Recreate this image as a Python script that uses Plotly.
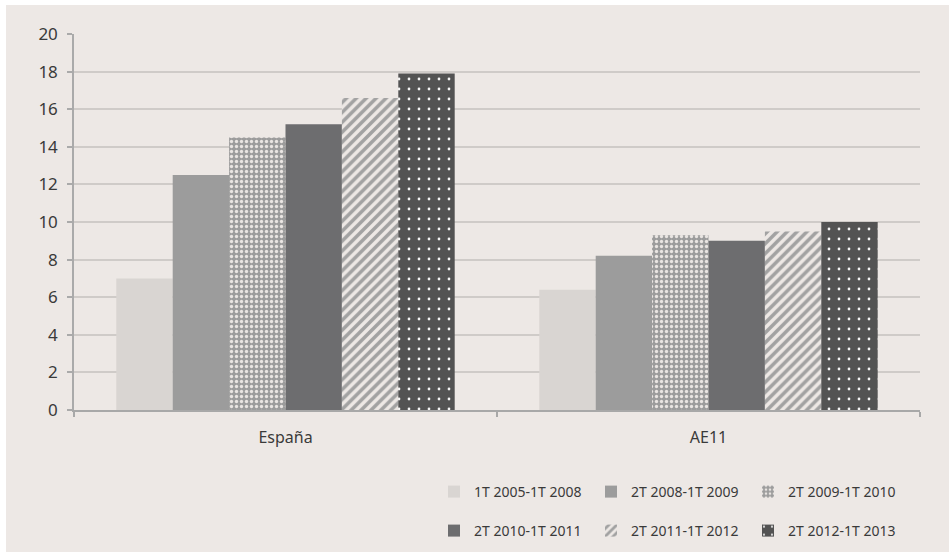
import plotly.graph_objects as go

# Categories and periods
categories = ["España", "AE11"]
periods = [
    "1T 2005-1T 2008",
    "2T 2008-1T 2009",
    "2T 2009-1T 2010",
    "2T 2010-1T 2011",
    "2T 2011-1T 2012",
    "2T 2012-1T 2013",
]

# Values per period (España, AE11)
v_2005_2008 = [7.0, 6.4]
v_2008_2009 = [12.5, 8.2]
v_2009_2010 = [14.5, 9.3]
v_2010_2011 = [15.2, 9.0]
v_2011_2012 = [16.6, 9.5]
v_2012_2013 = [17.9, 10.0]
series_values = [v_2005_2008, v_2008_2009, v_2009_2010, v_2010_2011, v_2011_2012, v_2012_2013]

y_ticks = [0, 2, 4, 6, 8, 10, 12, 14, 16, 18, 20]

BG = "#EDE8E5"
TXT = "#3A3A3A"
FONT = "Noto Sans, Open Sans, sans-serif"

styles = [
    dict(color="#D9D5D2", pattern=dict(shape="")),
    dict(color="#9C9C9C", pattern=dict(shape="")),
    dict(color="#9C9C9C", pattern=dict(shape=".", fgcolor="#E9E5E2", bgcolor="#9C9C9C",
                                       size=5, solidity=0.35, fillmode="replace")),
    dict(color="#6D6D6F", pattern=dict(shape="")),
    dict(color="#A2A2A2", pattern=dict(shape="/", fgcolor="#A2A2A2", bgcolor=BG,
                                       size=7, solidity=0.5, fillmode="replace")),
    dict(color="#535353", pattern=dict(shape=".", fgcolor="#F2F2F2", bgcolor="#535353",
                                       size=10, solidity=0.06, fillmode="replace")),
]

fig = go.Figure()
for i, (name, vals, st) in enumerate(zip(periods, series_values, styles)):
    fig.add_trace(go.Bar(
        x=categories, y=vals, name=name,
        marker=dict(color=st["color"], pattern=st["pattern"], line=dict(width=0)),
        legend="legend" if i < 3 else "legend2",
    ))

W, H = 949, 552
L, R, T, B = 74, 29, 34, 142
pw, ph = W - L - R, H - T - B

def px(x):
    return (x - L) / pw

def py(y):
    return (H - B - y) / ph

# Panel background with a thin white edge on the left and top
fig.add_shape(type="rect", xref="paper", yref="paper",
              x0=px(6), x1=px(W + 2), y0=py(H + 2), y1=py(5),
              fillcolor=BG, line=dict(width=0), layer="below")

legend_common = dict(
    orientation="h", xanchor="left", yanchor="middle",
    font=dict(family=FONT, size=14, color=TXT),
    bgcolor="rgba(0,0,0,0)", entrywidth=112, entrywidthmode="pixels",
    itemclick=False, itemdoubleclick=False, traceorder="normal",
)

fig.update_layout(
    width=W, height=H, autosize=False,
    margin=dict(l=L, r=R, t=T, b=B, pad=0, autoexpand=False),
    paper_bgcolor="white", plot_bgcolor="rgba(0,0,0,0)",
    barmode="group", bargap=0.2, bargroupgap=0,
    font=dict(family=FONT, size=16, color=TXT),
    legend=dict(x=px(434), y=py(492), **legend_common),
    legend2=dict(x=px(434), y=py(531), **legend_common),
    xaxis=dict(
        type="category", showline=True, linecolor="#A8A8A8", linewidth=2,
        ticks="outside", tickson="boundaries", ticklen=5, tickcolor="#A8A8A8",
        tickwidth=1.5, showgrid=False, tickfont=dict(family=FONT, size=16, color=TXT),
        ticklabelstandoff=12,
    ),
    yaxis=dict(
        range=[0, 20], tickvals=y_ticks, showline=True, linecolor="#AAAAAA",
        linewidth=1.5, ticks="outside", ticklen=5, tickcolor="#AAAAAA", tickwidth=1.5,
        showgrid=True, gridcolor="#CFCBC8", gridwidth=1.5, zeroline=False,
        tickfont=dict(family=FONT, size=17, color=TXT), ticklabelstandoff=6,
    ),
)

fig.write_html("out.html")
